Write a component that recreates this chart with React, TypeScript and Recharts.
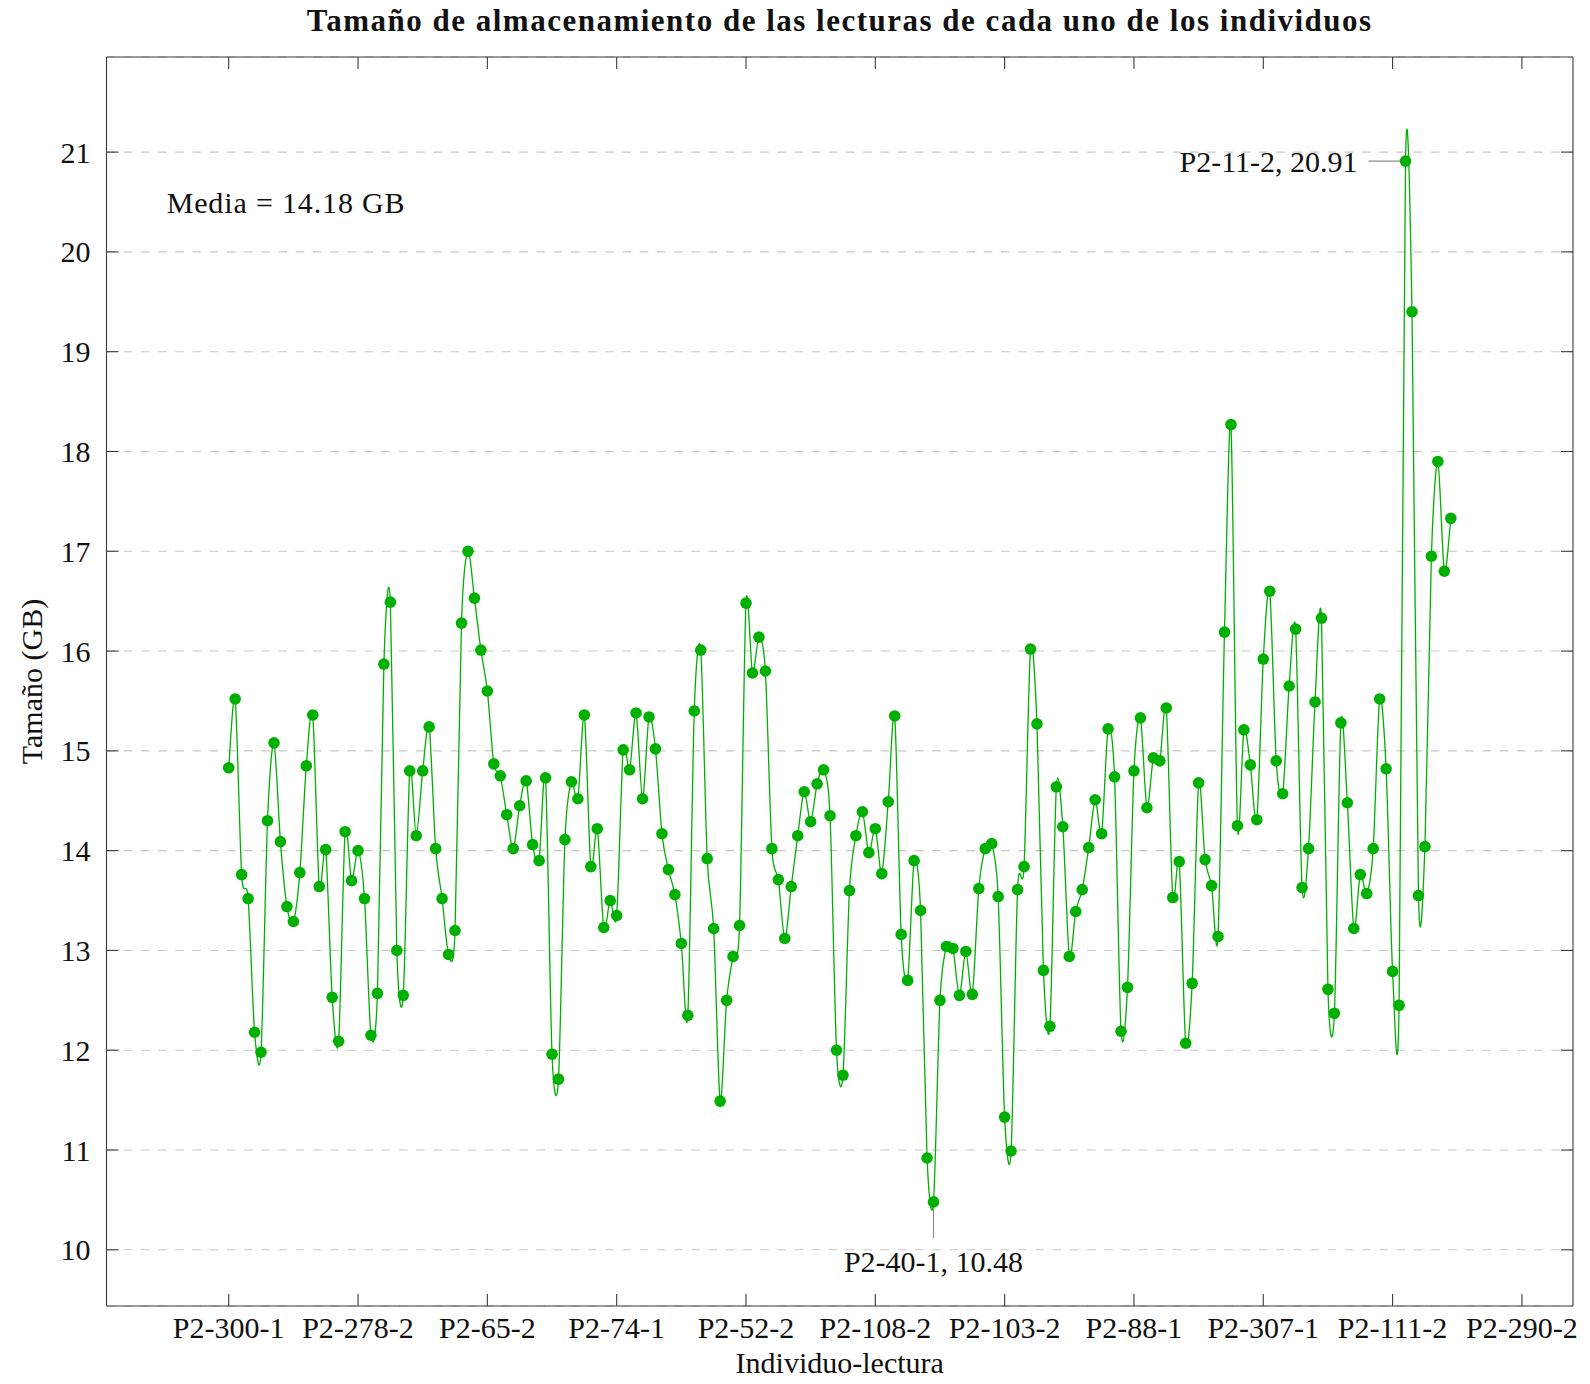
import { LineChart, Line, XAxis, YAxis, CartesianGrid, ReferenceDot } from 'recharts';

// etiquetas del eje x (una cada 20 lecturas)
const tickPositions = [0, 20, 40, 60, 80, 100, 120, 140, 160, 180, 200];
const tickLabels = ['P2-300-1', 'P2-278-2', 'P2-65-2', 'P2-74-1', 'P2-52-2', 'P2-108-2', 'P2-103-2', 'P2-88-1', 'P2-307-1', 'P2-111-2', 'P2-290-2'];
const yTicks = [10, 11, 12, 13, 14, 15, 16, 17, 18, 19, 20, 21];

// tamaño (GB) de cada lectura, en orden
const sizes = [
  14.83, 15.52, 13.76, 13.52, 12.18, 11.98, 14.30, 15.08, 14.09, 13.44,
  13.29, 13.78, 14.85, 15.36, 13.64, 14.01, 12.53, 12.09, 14.19, 13.70,
  14.00, 13.52, 12.15, 12.57, 15.87, 16.49, 13.00, 12.55, 14.80, 14.15,
  14.80, 15.24, 14.02, 13.52, 12.96, 13.20, 16.28, 17.00, 16.53, 16.01,
  15.60, 14.87, 14.75, 14.36, 14.02, 14.45, 14.70, 14.06, 13.90, 14.73,
  11.96, 11.71, 14.11, 14.69, 14.52, 15.36, 13.84, 14.22, 13.23, 13.50,
  13.35, 15.01, 14.81, 15.38, 14.52, 15.34, 15.02, 14.17, 13.81, 13.56,
  13.07, 12.35, 15.40, 16.01, 13.92, 13.22, 11.49, 12.50, 12.94, 13.25,
  16.48, 15.78, 16.14, 15.80, 14.02, 13.71, 13.12, 13.64, 14.15, 14.59,
  14.29, 14.67, 14.81, 14.35, 12.00, 11.75, 13.60, 14.15, 14.39, 13.98,
  14.22, 13.77, 14.49, 15.35, 13.16, 12.70, 13.90, 13.40, 10.92, 10.48,
  12.50, 13.04, 13.02, 12.55, 12.99, 12.56, 13.62, 14.02, 14.07, 13.54,
  11.33, 10.99, 13.61, 13.84, 16.02, 15.27, 12.80, 12.24, 14.64, 14.24,
  12.94, 13.39, 13.61, 14.03, 14.51, 14.17, 15.22, 14.74, 12.19, 12.63,
  14.80, 15.33, 14.43, 14.93, 14.90, 15.43, 13.53, 13.89, 12.07, 12.67,
  14.68, 13.91, 13.65, 13.14, 16.19, 18.27, 14.25, 15.21, 14.86, 14.31,
  15.92, 16.60, 14.90, 14.57, 15.65, 16.22, 13.63, 14.02, 15.49, 16.33,
  12.61, 12.37, 15.28, 14.48, 13.22, 13.76, 13.57, 14.02, 15.52, 14.82,
  12.79, 12.45, 20.91, 19.40, 13.55, 14.04, 16.95, 17.90, 16.80, 17.33,
];

// lecturas señaladas (máximo y mínimo)
const pinIndex = [182, 109];
const pinNames = ['P2-11-2', 'P2-40-1'];
const meanSize = 14.18;

const data = sizes.map((v, i) => ({ i, v }));

const FONT = '"Liberation Serif", "Times New Roman", serif';
const GREEN = '#00b000';
const AXIS = '#3a3a3a';
const PIN = '#8c8c8c';
const FS = 30;

// spline cardinal tipo "smooth" de pgfplots
const smoothCurve = (k: number) => (context: any) => {
  let pts: number[][] = [];
  return {
    areaStart() {},
    areaEnd() {},
    lineStart() { pts = []; },
    point(x: number, y: number) { pts.push([+x, +y]); },
    lineEnd() {
      if (!pts.length) return;
      context.moveTo(pts[0][0], pts[0][1]);
      for (let n = 0; n < pts.length - 1; n++) {
        const p0 = pts[n - 1] || pts[n];
        const p1 = pts[n];
        const p2 = pts[n + 1];
        const p3 = pts[n + 2] || p2;
        context.bezierCurveTo(
          p1[0] + k * (p2[0] - p0[0]), p1[1] + k * (p2[1] - p0[1]),
          p2[0] - k * (p3[0] - p1[0]), p2[1] - k * (p3[1] - p1[1]),
          p2[0], p2[1]
        );
      }
    },
  };
};

const BottomTick = (p: any) => {
  const label = tickLabels[tickPositions.indexOf(p.payload.value)];
  return (
    <g>
      <line x1={p.x} x2={p.x} y1={p.y} y2={p.y - 12} stroke={AXIS} strokeWidth={1.1} />
      <text x={p.x} y={p.y + 32} textAnchor="middle" fontFamily={FONT} fontSize={FS} fill="#111">{label}</text>
    </g>
  );
};

const TopTick = (p: any) => (
  <line x1={p.x} x2={p.x} y1={p.y} y2={p.y + 12} stroke={AXIS} strokeWidth={1.1} />
);

const LeftTick = (p: any) => (
  <g>
    <line x1={p.x} x2={p.x + 12} y1={p.y} y2={p.y} stroke={AXIS} strokeWidth={1.1} />
    <text x={p.x - 16} y={p.y} textAnchor="end" dominantBaseline="central" fontFamily={FONT} fontSize={FS} fill="#111">{p.payload.value}</text>
  </g>
);

const RightTick = (p: any) => (
  <line x1={p.x} x2={p.x - 12} y1={p.y} y2={p.y} stroke={AXIS} strokeWidth={1.1} />
);

const renderDot = (p: any) => {
  const { cx, cy, index } = p;
  const k = pinIndex.indexOf(index);
  const text = k >= 0 ? `${pinNames[k]}, ${sizes[index].toFixed(2)}` : '';
  return (
    <g key={`d-${index}`}>
      {k === 0 && (
        <g>
          <line x1={cx - 37} x2={cx} y1={cy} y2={cy} stroke={PIN} strokeWidth={1.2} />
          <text x={cx - 48} y={cy} textAnchor="end" dominantBaseline="central" fontFamily={FONT} fontSize={FS} fill="#111">{text}</text>
        </g>
      )}
      {k === 1 && (
        <g>
          <line x1={cx} x2={cx} y1={cy} y2={cy + 36} stroke={PIN} strokeWidth={1.2} />
          <text x={cx} y={cy + 60} textAnchor="middle" dominantBaseline="central" fontFamily={FONT} fontSize={FS} fill="#111">{text}</text>
        </g>
      )}
      <circle cx={cx} cy={cy} r={5.8} fill={GREEN} />
    </g>
  );
};

export default function App() {
  return (
    <div style={{ position: 'absolute', left: 0, top: 0, width: 1590, height: 1384 }}>
      <LineChart width={1590} height={1384} data={data} margin={{ top: 56, right: 16, bottom: 0, left: 0 }}>
        <CartesianGrid vertical={false} stroke="#c8c8c8" strokeDasharray="8.6 8.6" strokeWidth={1.1} />
        <XAxis
          dataKey="i"
          type="number"
          domain={[-18.9, 207.9]}
          allowDataOverflow
          ticks={tickPositions}
          interval={0}
          height={78}
          tickSize={0}
          tickMargin={0}
          tick={<BottomTick />}
          stroke={AXIS}
          axisLine={{ stroke: AXIS, strokeWidth: 1.1 }}
          label={{
            content: (lp: any) => (
              <text x={lp.viewBox.x + lp.viewBox.width / 2} y={lp.viewBox.y + 67} textAnchor="middle" fontFamily={FONT} fontSize={FS} fill="#111">Individuo-lectura</text>
            ),
          }}
        />
        <XAxis
          xAxisId="top"
          orientation="top"
          dataKey="i"
          type="number"
          domain={[-18.9, 207.9]}
          allowDataOverflow
          ticks={tickPositions}
          interval={0}
          height={1}
          tickSize={0}
          tickMargin={0}
          tick={<TopTick />}
          axisLine={{ stroke: AXIS, strokeWidth: 1.1 }}
          label={{
            content: (lp: any) => (
              <text x={lp.viewBox.x + lp.viewBox.width / 2} y={lp.viewBox.y + lp.viewBox.height - 26} textAnchor="middle" style={{ letterSpacing: '1.5px' }} fontFamily={FONT} fontSize={31} fontWeight="bold" fill="#111">Tamaño de almacenamiento de las lecturas de cada uno de los individuos</text>
            ),
          }}
        />
        <YAxis
          type="number"
          domain={[9.437, 21.953]}
          allowDataOverflow
          ticks={yTicks}
          interval={0}
          width={106.5}
          tickSize={0}
          tickMargin={0}
          tick={<LeftTick />}
          axisLine={{ stroke: AXIS, strokeWidth: 1.1 }}
          label={{
            content: (lp: any) => {
              const cy = lp.viewBox.y + lp.viewBox.height / 2;
              return (
                <text x={31.5} y={cy} transform={`rotate(-90 31.5 ${cy})`} textAnchor="middle" dominantBaseline="central" fontFamily={FONT} fontSize={FS} fill="#111">Tamaño (GB)</text>
              );
            },
          }}
        />
        <YAxis
          yAxisId="right"
          orientation="right"
          type="number"
          domain={[9.437, 21.953]}
          allowDataOverflow
          ticks={yTicks}
          interval={0}
          width={1}
          tickSize={0}
          tickMargin={0}
          tick={<RightTick />}
          axisLine={{ stroke: AXIS, strokeWidth: 1.1 }}
        />
        <Line
          xAxisId="top"
          yAxisId="right"
          dataKey="v"
          stroke="none"
          dot={false}
          activeDot={false}
          isAnimationActive={false}
        />
        <Line
          dataKey="v"
          type={smoothCurve(0.14) as any}
          stroke={GREEN}
          strokeWidth={1.3}
          dot={renderDot}
          activeDot={false}
          isAnimationActive={false}
        />
        <ReferenceDot
          x={-9.6}
          y={20.49}
          r={1}
          ifOverflow="visible"
          shape={(sp: any) => (
            <text x={sp.cx} y={sp.cy} dominantBaseline="central" textLength={238} lengthAdjust="spacing" fontFamily={FONT} fontSize={FS} fill="#111">{`Media = ${meanSize.toFixed(2)} GB`}</text>
          )}
        />
      </LineChart>
    </div>
  );
}
